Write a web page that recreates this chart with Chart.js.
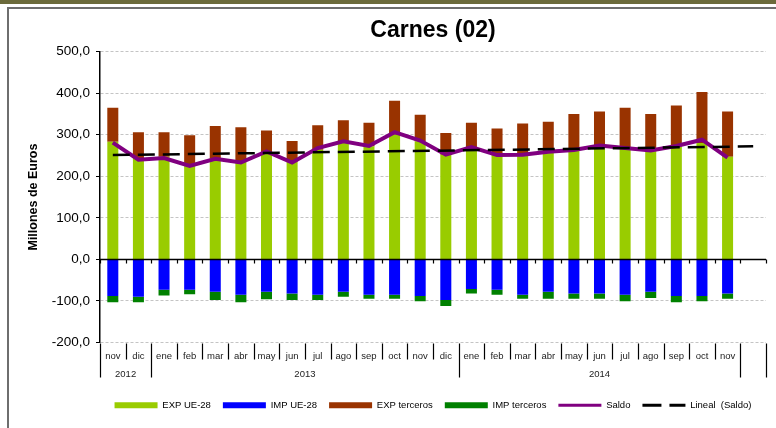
<!DOCTYPE html>
<html>
<head>
<meta charset="utf-8">
<title>Carnes (02)</title>
<script src="https://cdn.jsdelivr.net/npm/chart.js@4.4.1/dist/chart.umd.min.js"></script>
<style>
  html, body { margin: 0; padding: 0; background: #fff; }
  #wrap { width: 776px; height: 428px; }
</style>
</head>
<body>
<div id="wrap"><canvas id="myChart" width="776" height="428"></canvas></div>
<script>
// categories (last slot is empty, used by the trend line)
var months = ["nov", "dic", "ene", "feb", "mar", "abr", "may", "jun", "jul", "ago", "sep", "oct",
  "nov", "dic", "ene", "feb", "mar", "abr", "may", "jun", "jul", "ago", "sep", "oct", "nov", ""];
var years = ["2012", "2013", "2014", ""];
var yearSpans = [2, 12, 11, 1];
var yTicks = [-200, -100, 0, 100, 200, 300, 400, 500];

// series (millones de euros)
var expUE = [283, 244, 247, 227, 244, 235, 257, 235, 264, 280, 272, 300, 284,
  252, 268, 252, 252, 257, 265, 272, 266, 260, 272, 280, 247];
var impUE = [-88, -90, -73, -73, -78, -85, -78, -82, -85, -78, -85, -85, -88,
  -98, -71, -73, -85, -78, -82, -82, -85, -78, -88, -88, -82];
var expTerceros = [82, 62, 59, 72, 77, 83, 53, 50, 59, 55, 57, 82, 64,
  52, 61, 63, 75, 74, 85, 84, 99, 90, 98, 123, 109];
var impTerceros = [-15, -13, -14, -11, -20, -18, -18, -16, -13, -12, -10, -10, -13,
  -14, -11, -12, -10, -17, -13, -13, -16, -15, -15, -13, -13];
var saldo = [281, 240, 244, 225, 242, 233, 260, 233, 268, 284, 273, 306, 286,
  252, 270, 251, 252, 259, 263, 274, 268, 262, 273, 288, 245];
var lineal = [251, null, null, null, null, null, null, null, null, null, null, null, null,
  null, null, null, null, null, null, null, null, null, null, null, null, 272];

var FONT = "'Liberation Sans', Arial, sans-serif";

var frame = {
  id: "frame",
  beforeDraw: function (chart) {
    var ctx = chart.ctx;
    ctx.save();
    ctx.fillStyle = "#fff";
    ctx.fillRect(0, 0, chart.width, chart.height);
    ctx.fillStyle = "#6b6a3b";
    ctx.fillRect(0, 0, chart.width, 4);
    ctx.fillStyle = "#6e6e6e";
    ctx.fillRect(7, 7, chart.width - 7, 2);
    ctx.fillRect(7, 7, 2, chart.height - 7);
    ctx.restore();
  }
};

// zero line, ticks and the two-level category labels
var categoryAxis = {
  id: "categoryAxis",
  afterDatasetsDraw: function (chart) {
    var ctx = chart.ctx;
    var x = chart.scales.x, y = chart.scales.y, area = chart.chartArea;
    var w = x.getPixelForValue(1) - x.getPixelForValue(0);
    var x0 = x.getPixelForValue(0) - w / 2;
    var y0 = Math.round(y.getPixelForValue(0)) + 0.5;
    var bottom = Math.round(area.bottom) + 0.5;
    var i, bx;

    ctx.save();
    ctx.strokeStyle = "#000";
    ctx.lineWidth = 1.5;
    ctx.beginPath();
    ctx.moveTo(area.left, y0);
    ctx.lineTo(area.right, y0);
    ctx.stroke();

    ctx.lineWidth = 1.2;
    ctx.beginPath();
    for (i = 0; i <= months.length; i++) {
      bx = Math.round(x0 + i * w) + 0.5;
      ctx.moveTo(bx, y0);
      ctx.lineTo(bx, y0 + 4);
      ctx.moveTo(bx, bottom);
      ctx.lineTo(bx, bottom + 16);
    }
    var acc = 0;
    ctx.moveTo(Math.round(x0) + 0.5, bottom);
    ctx.lineTo(Math.round(x0) + 0.5, bottom + 34);
    for (i = 0; i < yearSpans.length; i++) {
      acc += yearSpans[i];
      bx = Math.round(x0 + acc * w) + 0.5;
      ctx.moveTo(bx, bottom);
      ctx.lineTo(bx, bottom + 34);
    }
    ctx.stroke();

    ctx.fillStyle = "#222";
    ctx.font = "9.5px " + FONT;
    ctx.textAlign = "center";
    ctx.textBaseline = "alphabetic";
    for (i = 0; i < months.length; i++) {
      ctx.fillText(months[i], x.getPixelForValue(i), bottom + 15.5);
    }
    acc = 0;
    for (i = 0; i < years.length; i++) {
      ctx.fillText(years[i], x0 + (acc + yearSpans[i] / 2) * w, bottom + 33);
      acc += yearSpans[i];
    }
    ctx.restore();
  }
};

var barBase = { stack: "s", order: 3, categoryPercentage: 1, barPercentage: 0.43, pointStyle: "rect" };

new Chart("myChart", {
  type: "bar",
  data: {
    labels: months,
    datasets: [
      Object.assign({ label: "EXP UE-28", data: expUE, backgroundColor: "#99cc00" }, barBase),
      Object.assign({ label: "IMP UE-28", data: impUE, backgroundColor: "#0000ff" }, barBase),
      Object.assign({ label: "EXP terceros", data: expTerceros, backgroundColor: "#993300" }, barBase),
      Object.assign({ label: "IMP terceros", data: impTerceros, backgroundColor: "#008000" }, barBase),
      {
        type: "line", label: "Saldo", data: saldo, stack: "saldo", order: 2,
        borderColor: "#800080", backgroundColor: "#800080", borderWidth: 4,
        pointRadius: 0, tension: 0, legendWidth: 3
      },
      {
        type: "line", label: "Lineal  (Saldo)", data: lineal, stack: "trend", order: 1,
        borderColor: "#000", backgroundColor: "#000", borderWidth: 2.5, borderDash: [17, 8],
        pointRadius: 0, spanGaps: true, legendWidth: 3
      }
    ]
  },
  options: {
    responsive: false,
    animation: false,
    devicePixelRatio: 1,
    layout: { padding: { left: 22, right: 10, top: 8, bottom: 8 } },
    scales: {
      x: {
        stacked: true,
        ticks: { display: false },
        grid: { display: false },
        border: { display: false },
        afterFit: function (s) { s.height = 46; }
      },
      y: {
        stacked: true,
        min: -200,
        max: 500,
        afterBuildTicks: function (s) {
          s.ticks = yTicks.map(function (v) { return { value: v }; });
        },
        afterFit: function (s) { s.width = 78; },
        ticks: {
          color: "#000",
          padding: 6,
          font: { family: FONT, size: 13.5 },
          callback: function (v) { return v.toFixed(1).replace(".", ","); }
        },
        grid: { color: "#c4c4c4", lineWidth: 1, tickLength: 4, tickColor: "#000" },
        border: { display: true, color: "#000", width: 1.5, dash: [3, 2] },
        title: {
          display: true,
          text: "Millones de Euros",
          color: "#000",
          font: { family: FONT, size: 12.5, weight: "bold" },
          padding: { top: 4, bottom: 0 }
        }
      }
    },
    plugins: {
      tooltip: { enabled: false },
      title: {
        display: true,
        text: "Carnes (02)",
        fullSize: false,
        color: "#000",
        font: { family: FONT, size: 23, weight: "bold" },
        padding: { top: 9, bottom: 7 }
      },
      legend: {
        position: "bottom",
        fullSize: false,
        labels: {
          usePointStyle: true,
          pointStyleWidth: 43,
          boxHeight: 6,
          padding: 12,
          color: "#000",
          font: { family: FONT, size: 9.5 },
          sort: function (a, b) { return a.datasetIndex - b.datasetIndex; },
          generateLabels: function (chart) {
            var items = Chart.defaults.plugins.legend.labels.generateLabels(chart);
            items.forEach(function (it) {
              var ds = chart.data.datasets[it.datasetIndex];
              if (ds.type === "line") {
                it.pointStyle = "line";
                it.strokeStyle = ds.borderColor;
                it.lineWidth = ds.legendWidth;
                it.lineDash = ds.borderDash ? [19, 8] : [];
              } else {
                it.pointStyle = "rect";
                it.lineWidth = 0;
              }
            });
            return items;
          }
        }
      }
    }
  },
  plugins: [frame, categoryAxis]
});
</script>
</body>
</html>
